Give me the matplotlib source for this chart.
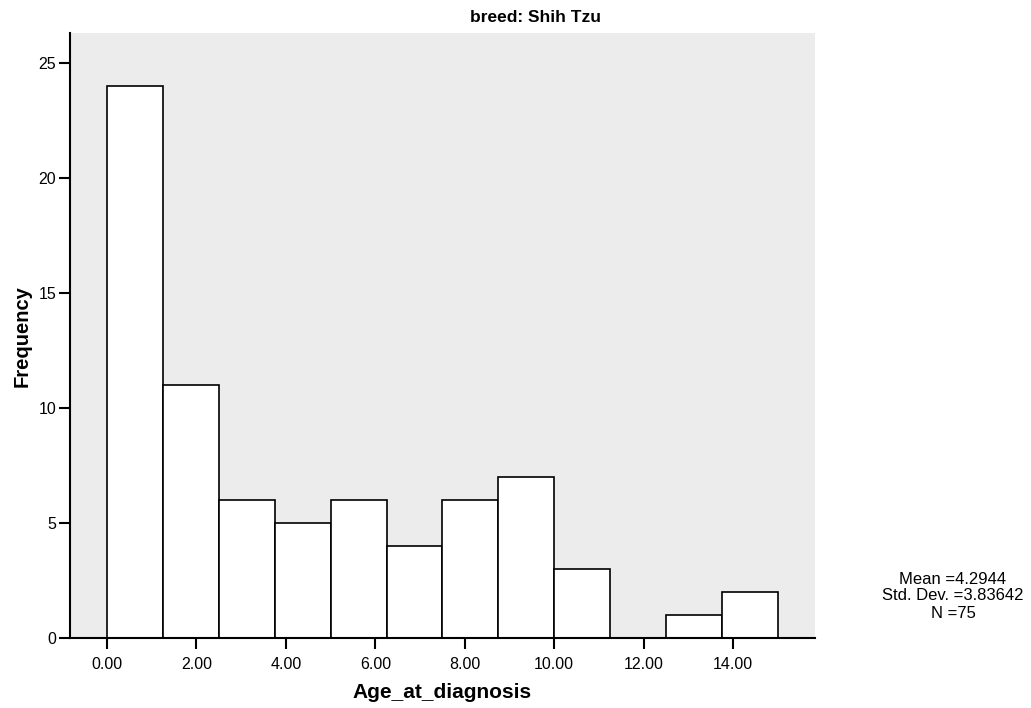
import numpy as np
import matplotlib
matplotlib.use("Agg")
import matplotlib.pyplot as plt

plt.rcParams['font.family'] = ['Liberation Sans', 'DejaVu Sans']

# histogram bins of Age_at_diagnosis (width 1.25)
bin_edges = [0.0, 1.25, 2.5, 3.75, 5.0, 6.25, 7.5, 8.75, 10.0, 11.25, 12.5, 13.75, 15.0]
counts = [24, 11, 6, 5, 6, 4, 6, 7, 3, 0, 1, 2]
x_ticks = [0, 2, 4, 6, 8, 10, 12, 14]
y_ticks = [0, 5, 10, 15, 20, 25]
stats_lines = ["Mean =4.2944", "Std. Dev. =3.83642", "N =75"]

fig = plt.figure(figsize=(10.31, 7.08), dpi=100)
ax = fig.add_axes([70 / 1031, 1 - 638 / 708, 745 / 1031, 605 / 708])
ax.set_facecolor('#ececec')

lefts = np.array(bin_edges[:-1])
widths = np.diff(bin_edges)
ax.bar(lefts, counts, width=widths, align='edge', facecolor='white',
       edgecolor='black', linewidth=1.2)

ax.set_xlim(-0.827, 15.83)
ax.set_ylim(0, 26.32)
ax.set_xticks(x_ticks)
ax.set_xticklabels([f"{t:.2f}" for t in x_ticks])
ax.set_yticks(y_ticks)

for side in ['top', 'right']:
    ax.spines[side].set_visible(False)
for side in ['left', 'bottom']:
    ax.spines[side].set_linewidth(1.5)
ax.tick_params(length=8, width=1.5, labelsize=11.5)
ax.tick_params(axis='x', pad=6)
ax.tick_params(axis='y', pad=2)

# axis labels placed in figure coords to match the original layout
fig.text(442 / 1031, 1 - 692 / 708, "Age_at_diagnosis", ha='center', va='center',
         fontsize=15, fontweight='bold')
fig.text(22 / 1031, 1 - 336 / 708, "Frequency", ha='center', va='center',
         rotation=90, fontsize=14.5, fontweight='bold')

fig.text(536 / 1031, 1 - 18 / 708, "breed: Shih Tzu", ha='center', va='center',
         fontsize=12.5, fontweight='bold')

# summary statistics, one line each
for i, line in enumerate(stats_lines):
    fig.text(953 / 1031, 1 - (579 + 17 * i) / 708, line, ha='center', va='center',
             fontsize=12)

fig.savefig("out.png", dpi=100)
